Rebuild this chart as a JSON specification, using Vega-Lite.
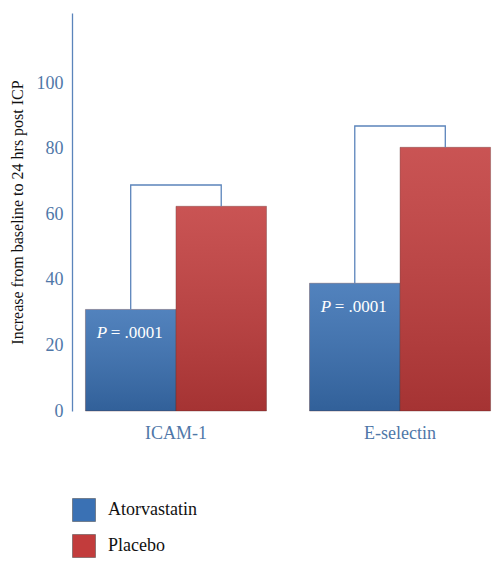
{
  "$schema": "https://vega.github.io/schema/vega-lite/v6.json",
  "autosize": {"type": "none"},
  "padding": {"left": 72, "top": 13, "right": 0, "bottom": 154},
  "width": 432,
  "height": 398,
  "background": "white",
  "config": {
    "view": {"stroke": null},
    "font": "Liberation Serif"
  },
  "datasets": {
    "bars": [
      {"marker": "ICAM-1", "group": "Atorvastatin", "value": 31},
      {"marker": "ICAM-1", "group": "Placebo", "value": 62.5},
      {"marker": "E-selectin", "group": "Atorvastatin", "value": 39},
      {"marker": "E-selectin", "group": "Placebo", "value": 80.5}
    ],
    "bracket": [
      {"marker": "ICAM-1", "group": "Atorvastatin", "value": 31, "ord": 1},
      {"marker": "ICAM-1", "group": "Atorvastatin", "value": 69, "ord": 2},
      {"marker": "ICAM-1", "group": "Placebo", "value": 69, "ord": 3},
      {"marker": "ICAM-1", "group": "Placebo", "value": 62.5, "ord": 4},
      {"marker": "E-selectin", "group": "Atorvastatin", "value": 39, "ord": 1},
      {"marker": "E-selectin", "group": "Atorvastatin", "value": 87, "ord": 2},
      {"marker": "E-selectin", "group": "Placebo", "value": 87, "ord": 3},
      {"marker": "E-selectin", "group": "Placebo", "value": 80.5, "ord": 4}
    ],
    "pvals": [
      {"marker": "ICAM-1", "group": "Atorvastatin", "value": 31, "p": "P", "rest": "= .0001"},
      {"marker": "E-selectin", "group": "Atorvastatin", "value": 39, "p": "P", "rest": "= .0001"}
    ]
  },
  "encoding": {
    "x": {
      "field": "marker", "type": "nominal", "sort": ["ICAM-1", "E-selectin"],
      "scale": {"paddingInner": 0.192, "paddingOuter": 0.06},
      "axis": {
        "title": null, "domain": false, "ticks": false, "labelAngle": 0,
        "labelPadding": 13, "labelFontSize": 18, "labelColor": "#4f77a8",
        "labelFont": "Liberation Serif"
      }
    },
    "xOffset": {"field": "group", "type": "nominal", "sort": ["Atorvastatin", "Placebo"], "scale": {"paddingInner": 0, "paddingOuter": 0}},
    "y": {
      "field": "value", "type": "quantitative",
      "scale": {"domain": [0, 121.5], "nice": false},
      "axis": {
        "title": "Increase from baseline to 24 hrs post ICP",
        "titleFontSize": 16, "titleFontWeight": "normal", "titleColor": "#111111",
        "titleFont": "Liberation Serif", "titlePadding": 11,
        "values": [0, 20, 40, 60, 80, 100],
        "grid": false, "ticks": false, "domainColor": "#5b84bb", "domainWidth": 1.3,
        "labelFontSize": 18, "labelColor": "#4f77a8", "labelPadding": 9,
        "labelFont": "Liberation Serif"
      }
    }
  },
  "layer": [
    {
      "data": {"name": "bars"},
      "mark": {"type": "bar", "stroke": "#5a2a2a", "strokeOpacity": 0.35, "strokeWidth": 1},
      "encoding": {
        "color": {
          "field": "group", "type": "nominal",
          "scale": {"domain": ["Atorvastatin", "Placebo"], "range": ["#3a71b4", "#c23c3c"]},
          "legend": {
            "title": null, "orient": "none", "legendX": 0, "legendY": 485,
            "padding": 0, "symbolType": "square", "symbolSize": 529,
            "symbolStrokeColor": "#444444", "symbolStrokeWidth": 0.5,
            "rowPadding": 10, "labelOffset": 12, "labelFontSize": 18,
            "labelColor": "#111111", "labelFont": "Liberation Serif"
          }
        }
      }
    },
    {
      "data": {"name": "bars"},
      "mark": {
        "type": "bar",
        "fill": {
          "gradient": "linear", "x1": 0, "y1": 0, "x2": 0, "y2": 1,
          "stops": [
            {"offset": 0, "color": "rgba(255,255,255,0.12)"},
            {"offset": 1, "color": "rgba(0,0,0,0.15)"}
          ]
        }
      }
    },
    {
      "data": {"name": "bracket"},
      "mark": {"type": "line", "color": "#5b84bb", "strokeWidth": 1.3, "interpolate": "linear"},
      "encoding": {
        "detail": {"field": "marker", "type": "nominal"},
        "order": {"field": "ord", "type": "quantitative"}
      }
    },
    {
      "data": {"name": "pvals"},
      "mark": {"type": "text", "align": "left", "baseline": "middle", "dx": -34, "dy": 24, "fontSize": 17, "fontStyle": "italic", "color": "white", "font": "Liberation Serif"},
      "encoding": {"text": {"field": "p"}}
    },
    {
      "data": {"name": "pvals"},
      "mark": {"type": "text", "align": "left", "baseline": "middle", "dx": -20, "dy": 24, "fontSize": 17, "color": "white", "font": "Liberation Serif"},
      "encoding": {"text": {"field": "rest"}}
    }
  ]
}
